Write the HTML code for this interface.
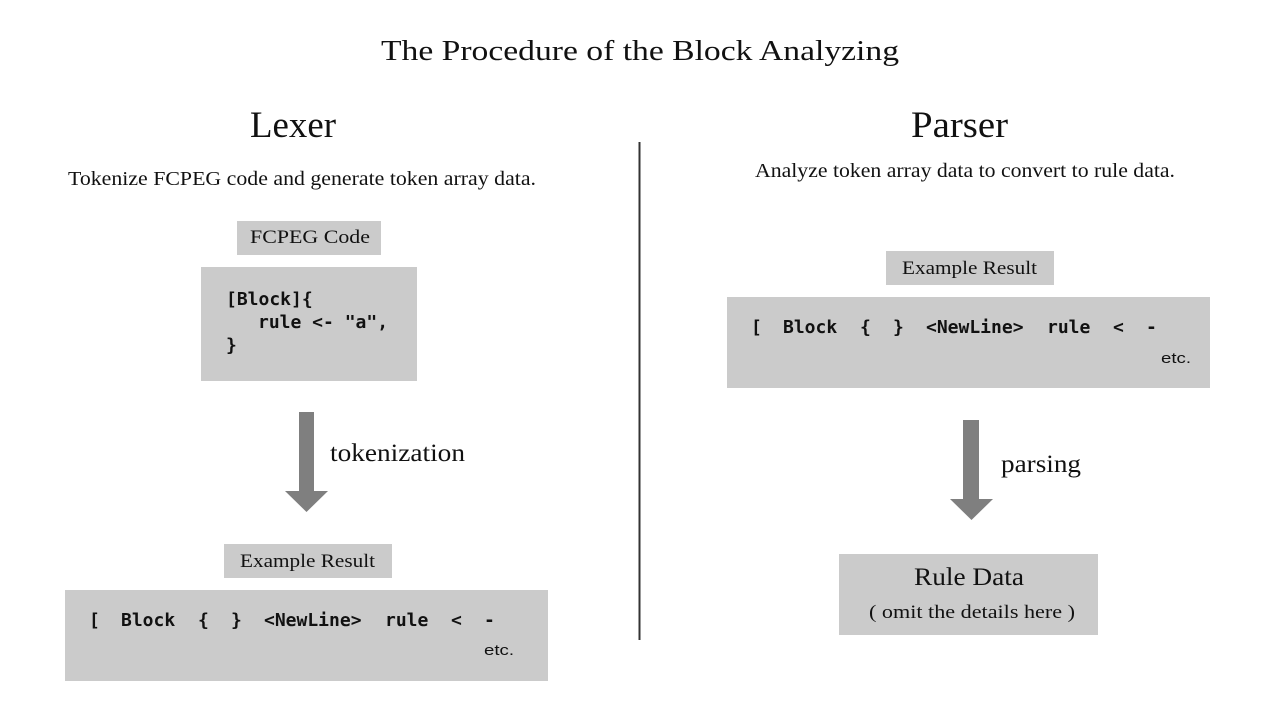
<!DOCTYPE html>
<html><head><meta charset="utf-8"><style>
html,body{margin:0;padding:0;background:#fff;}
svg{display:block;}
.s{font-family:"Liberation Serif",serif;fill:#111;}
.m{font-family:"DejaVu Sans Mono","Liberation Mono",monospace;font-size:18px;fill:#111;font-weight:bold;}
.e{font-family:"Liberation Sans",sans-serif;font-size:15px;fill:#111;}
</style></head><body>
<svg width="1280" height="720" viewBox="0 0 1280 720" xmlns="http://www.w3.org/2000/svg">
<rect width="1280" height="720" fill="#fff"/>
<text class="s" x="381" y="60" font-size="29" textLength="518" lengthAdjust="spacingAndGlyphs">The Procedure of the Block Analyzing</text>
<text class="s" x="250" y="137" font-size="37" textLength="86" lengthAdjust="spacingAndGlyphs">Lexer</text>
<text class="s" x="911" y="137" font-size="37" textLength="97" lengthAdjust="spacingAndGlyphs">Parser</text>
<text class="s" x="68" y="185" font-size="20" textLength="468" lengthAdjust="spacingAndGlyphs">Tokenize FCPEG code and generate token array data.</text>
<text class="s" x="755" y="177" font-size="20" textLength="420" lengthAdjust="spacingAndGlyphs">Analyze token array data to convert to rule data.</text>
<line x1="639.5" y1="142" x2="639.5" y2="640" stroke="#333" stroke-width="2"/>

<rect x="237" y="221" width="144" height="34" fill="#cbcbcb"/>
<text class="s" x="250" y="243" font-size="19" textLength="120" lengthAdjust="spacingAndGlyphs">FCPEG Code</text>
<rect x="201" y="267" width="216" height="114" fill="#cbcbcb"/>
<text class="m" x="226" y="305">[Block]{</text>
<text class="m" x="258" y="328">rule &lt;- "a",</text>
<text class="m" x="226" y="351">}</text>
<rect x="299" y="412" width="15" height="80" fill="#7f7f7f"/>
<polygon points="285,491 328,491 306.5,512" fill="#7f7f7f"/>
<text class="s" x="330" y="461" font-size="25" textLength="135" lengthAdjust="spacingAndGlyphs">tokenization</text>
<rect x="224" y="544" width="168" height="34" fill="#cbcbcb"/>
<text class="s" x="240" y="567" font-size="19" textLength="135" lengthAdjust="spacingAndGlyphs">Example Result</text>
<rect x="65" y="590" width="483" height="91" fill="#cbcbcb"/>
<text class="m" x="89" y="626">[</text>
<text class="m" x="121" y="626">Block</text>
<text class="m" x="198" y="626">{</text>
<text class="m" x="231" y="626">}</text>
<text class="m" x="264" y="626">&lt;NewLine&gt;</text>
<text class="m" x="385" y="626">rule</text>
<text class="m" x="451" y="626">&lt;</text>
<text class="m" x="484" y="626">-</text>
<text class="e" x="484" y="655" textLength="30" lengthAdjust="spacingAndGlyphs">etc.</text>

<rect x="886" y="251" width="168" height="34" fill="#cbcbcb"/>
<text class="s" x="902" y="274" font-size="19" textLength="135" lengthAdjust="spacingAndGlyphs">Example Result</text>
<rect x="727" y="297" width="483" height="91" fill="#cbcbcb"/>
<text class="m" x="751" y="333">[</text>
<text class="m" x="783" y="333">Block</text>
<text class="m" x="860" y="333">{</text>
<text class="m" x="893" y="333">}</text>
<text class="m" x="926" y="333">&lt;NewLine&gt;</text>
<text class="m" x="1047" y="333">rule</text>
<text class="m" x="1113" y="333">&lt;</text>
<text class="m" x="1146" y="333">-</text>
<text class="e" x="1161" y="363" textLength="30" lengthAdjust="spacingAndGlyphs">etc.</text>
<rect x="963" y="420" width="16" height="80" fill="#7f7f7f"/>
<polygon points="950,499 993,499 971.5,520" fill="#7f7f7f"/>
<text class="s" x="1001" y="472" font-size="25" textLength="80" lengthAdjust="spacingAndGlyphs">parsing</text>
<rect x="839" y="554" width="259" height="81" fill="#cbcbcb"/>
<text class="s" x="914" y="585" font-size="25" textLength="110" lengthAdjust="spacingAndGlyphs">Rule Data</text>
<text class="s" x="869" y="618" font-size="19" textLength="206" lengthAdjust="spacingAndGlyphs">( omit the details here )</text>
</svg>
</body></html>
